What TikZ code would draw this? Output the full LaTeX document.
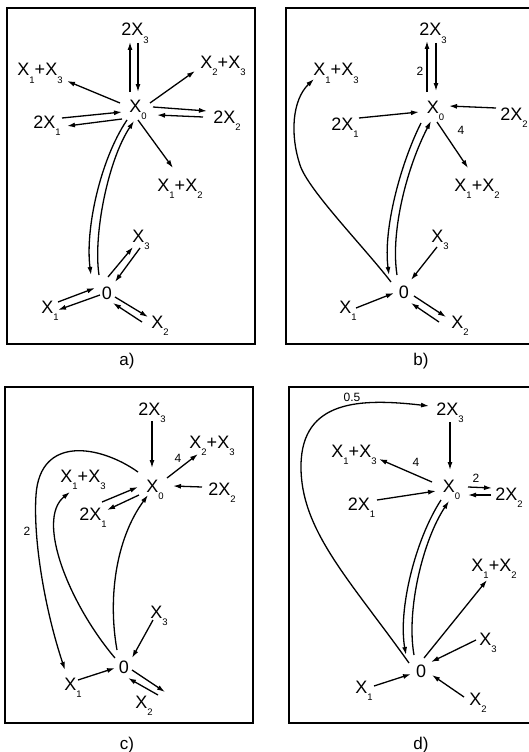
\documentclass[tikz,border=0pt]{standalone}
\usepackage{fontspec}
\setmainfont{Liberation Sans}
\usetikzlibrary{arrows.meta}
\newcommand{\Xs}[1]{X\raisebox{-7.5pt}{\fontsize{9.5}{9.5}\selectfont #1}}
\newcommand{\mainsz}{\fontsize{18}{18}\selectfont}
\begin{document}
\begin{tikzpicture}[x=1pt,y=-1pt,
  lab/.style={inner sep=0pt, anchor=base, font=\mainsz},
  capt/.style={inner sep=0pt, anchor=base, font=\fontsize{17}{17}\selectfont},
  num/.style={inner sep=0pt, font=\fontsize{12}{12}\selectfont},
  arw/.style={line width=1.3pt, -{Latex[length=8pt,width=5pt]}},
  frame/.style={line width=1.3pt}]
\useasboundingbox (0,0) rectangle (529,752);
\fill[white] (0,0) rectangle (529,752);

% frames
\draw[frame] (7,8) rectangle (255,344);
\draw[frame] (286,8) rectangle (532,344);
\draw[frame] (5,387) rectangle (253,723);
\draw[frame] (289,387) rectangle (532,723);

% captions
\node[capt] (capa) at (127,365) {a)};
\node[capt] (capb) at (421,365) {b)};
\node[capt] (capc) at (127,749) {c)};
\node[capt] (capd) at (421,749) {d)};

% ---------------- panel a ----------------
\node[lab] (a23)  at (135,36)  {2\Xs{3}};
\node[lab] (a13)  at (40,76)   {\Xs{1}+\Xs{3}};
\node[lab] (a233) at (223,68)  {\Xs{2}+\Xs{3}};
\node[lab] (ax0)  at (138,112) {\Xs{0}};
\node[lab] (a21)  at (47,128)  {2\Xs{1}};
\node[lab] (a22)  at (227,123) {2\Xs{2}};
\node[lab] (a12)  at (180,191) {\Xs{1}+\Xs{2}};
\node[lab] (a0)   at (107,299) {0};
\node[lab] (ax3)  at (141,242) {\Xs{3}};
\node[lab] (ax1)  at (50,313)  {\Xs{1}};
\node[lab] (ax2)  at (160,328) {\Xs{2}};

\draw[arw] ([shift={(-8,-20)}]ax0.base) -- ([shift={(-5,6)}]a23.base);
\draw[arw] ([shift={(3,7)}]a23.base) -- ([shift={(0,-20)}]ax0.base);
\draw[arw] ([shift={(-18,-9)}]ax0.base) -- ([shift={(27,5)}]a13.base);
\draw[arw] ([shift={(12,-9)}]ax0.base) -- ([shift={(-28,3)}]a233.base);
\draw[arw] ([shift={(15,-10)}]a21.base) -- ([shift={(-16,0)}]ax0.base);
\draw[arw] ([shift={(-16,7)}]ax0.base) -- ([shift={(20,-2)}]a21.base);
\draw[arw] ([shift={(15,-5)}]ax0.base) -- ([shift={(-20,-12)}]a22.base);
\draw[arw] ([shift={(-24,-6)}]a22.base) -- ([shift={(19,3)}]ax0.base);
\draw[arw] ([shift={(0,8)}]ax0.base) -- ([shift={(-7,-23)}]a12.base);
\draw[arw] ([shift={(-11,8)}]ax0.base) .. controls (100,160) and (85,230) .. ([shift={(-16,-24)}]a0.base);
\draw[arw] ([shift={(-8,-24)}]a0.base) .. controls (93,235) and (108,160) .. ([shift={(-4,9)}]ax0.base);
\draw[arw] ([shift={(1,-22)}]a0.base) -- ([shift={(-8,5)}]ax3.base);
\draw[arw] ([shift={(-1,6)}]ax3.base) -- ([shift={(8,-17)}]a0.base);
\draw[arw] ([shift={(8,-11)}]ax1.base) -- ([shift={(-12,-11)}]a0.base);
\draw[arw] ([shift={(-7,-4)}]a0.base) -- ([shift={(8,-3)}]ax1.base);
\draw[arw] ([shift={(8,-2)}]a0.base) -- ([shift={(-12,-11)}]ax2.base);
\draw[arw] ([shift={(-18,-6)}]ax2.base) -- ([shift={(6,4)}]a0.base);

% ---------------- panel b ----------------
\node[lab] (b23) at (433,36)   {2\Xs{3}};
\node[lab] (b13) at (336,76)   {\Xs{1}+\Xs{3}};
\node[lab] (bx0) at (435.5,113) {\Xs{0}};
\node[lab] (b21) at (345,130)  {2\Xs{1}};
\node[lab] (b22) at (514,120)  {2\Xs{2}};
\node[lab] (b12) at (477,191)  {\Xs{1}+\Xs{2}};
\node[lab] (bx3) at (440,242)  {\Xs{3}};
\node[lab] (b0)  at (404,298)  {0};
\node[lab] (bx1) at (348,313)  {\Xs{1}};
\node[lab] (bx2) at (460,328)  {\Xs{2}};
\node[num] (bn2) at (420,71) {2};
\node[num] (bn4) at (461,130) {4};

\draw[arw] ([shift={(-8.5,-21)}]bx0.base) -- ([shift={(-6,5)}]b23.base);
\draw[arw] ([shift={(3,7)}]b23.base) -- ([shift={(0.5,-22)}]bx0.base);
\draw[arw] ([shift={(14,-12)}]b21.base) -- ([shift={(-16.5,-1)}]bx0.base);
\draw[arw] ([shift={(-18,-12)}]b22.base) -- ([shift={(13.5,-7)}]bx0.base);
\draw[arw] ([shift={(1.5,9)}]bx0.base) -- ([shift={(-9,-23)}]b12.base);
\draw[arw] ([shift={(-13,-16)}]b0.base) .. controls (365,248) and (308,190) .. (300,165)
   .. controls (290,135) and (292,100) .. ([shift={(-22,3)}]b13.base);
\draw[arw] ([shift={(-14.5,10)}]bx0.base) .. controls (400,165) and (383,230) .. ([shift={(-15,-23)}]b0.base);
\draw[arw] ([shift={(-7,-23)}]b0.base) .. controls (390,230) and (408,165) .. ([shift={(-4.5,8)}]bx0.base);
\draw[arw] ([shift={(-3,5)}]bx3.base) -- ([shift={(7,-18)}]b0.base);
\draw[arw] ([shift={(8,-5)}]bx1.base) -- ([shift={(-10,-5)}]b0.base);
\draw[arw] ([shift={(10,-2)}]b0.base) -- ([shift={(-14,-11)}]bx2.base);
\draw[arw] ([shift={(-21,-6)}]bx2.base) -- ([shift={(7,5)}]b0.base);

% ---------------- panel c ----------------
\node[lab] (c23)  at (152,415) {2\Xs{3}};
\node[lab] (c233) at (212,448) {\Xs{2}+\Xs{3}};
\node[lab] (c13)  at (83,482)  {\Xs{1}+\Xs{3}};
\node[lab] (cx0)  at (155,492) {\Xs{0}};
\node[lab] (c22)  at (222,495) {2\Xs{2}};
\node[lab] (c21)  at (93,520)  {2\Xs{1}};
\node[lab] (cx3)  at (159,618) {\Xs{3}};
\node[lab] (c0)   at (124,673) {0};
\node[lab] (cx1)  at (73,690)  {\Xs{1}};
\node[lab] (cx2)  at (144,708) {\Xs{2}};
\node[num] (cn4) at (178,458) {4};
\node[num] (cn2) at (27,531) {2};

\draw[arw] ([shift={(0,6)}]c23.base) -- ([shift={(-3,-24)}]cx0.base);
\draw[arw] ([shift={(12,-14)}]cx0.base) -- ([shift={(-14,6)}]c233.base);
\draw[arw] ([shift={(-20,-8)}]c22.base) -- ([shift={(18,-6)}]cx0.base);
\draw[arw] ([shift={(9,-18)}]c21.base) -- ([shift={(-17,-5)}]cx0.base);
\draw[arw] ([shift={(-16,3)}]cx0.base) -- ([shift={(14,-10)}]c21.base);
\draw[arw] ([shift={(-17,-20)}]cx0.base) .. controls (100,445) and (40,435) .. (36,495)
   .. controls (33,540) and (45,610) .. ([shift={(-8,-20)}]cx1.base);
\draw[arw] ([shift={(-9,-15)}]c0.base) .. controls (70,605) and (35,520) .. ([shift={(-13,10)}]c13.base);
\draw[arw] ([shift={(-7,-23)}]c0.base) .. controls (108,600) and (115,540) .. ([shift={(-7,3)}]cx0.base);
\draw[arw] ([shift={(-6,2)}]cx3.base) -- ([shift={(8,-15)}]c0.base);
\draw[arw] ([shift={(5,-10)}]cx1.base) -- ([shift={(-9,-5)}]c0.base);
\draw[arw] ([shift={(8,-3)}]c0.base) -- ([shift={(21,-16)}]cx2.base);
\draw[arw] ([shift={(14,-13)}]cx2.base) -- ([shift={(4,5)}]c0.base);

% ---------------- panel d ----------------
\node[lab] (d23) at (450,415)   {2\Xs{3}};
\node[lab] (d13) at (354,457)   {\Xs{1}+\Xs{3}};
\node[lab] (dx0) at (451.5,492) {\Xs{0}};
\node[lab] (d21) at (361.5,510) {2\Xs{1}};
\node[lab] (d22) at (509,500)   {2\Xs{2}};
\node[lab] (d12) at (494,571)   {\Xs{1}+\Xs{2}};
\node[lab] (dx3) at (488,645)   {\Xs{3}};
\node[lab] (d0)  at (421,677)   {0};
\node[lab] (dx1) at (364,693)   {\Xs{1}};
\node[lab] (dx2) at (478,705)   {\Xs{2}};
\node[num] (dn05) at (352,397) {0.5};
\node[num] (dn4) at (416,462) {4};
\node[num] (dn2) at (476,478) {2};

\draw[arw] ([shift={(0,7)}]d23.base) -- ([shift={(-1.5,-22)}]dx0.base);
\draw[arw] ([shift={(-19.5,-10)}]dx0.base) -- ([shift={(25,2)}]d13.base);
\draw[arw] ([shift={(15.5,-10)}]d21.base) -- ([shift={(-15.5,-1)}]dx0.base);
\draw[arw] ([shift={(16.5,-5)}]dx0.base) -- ([shift={(-17,-12)}]d22.base);
\draw[arw] ([shift={(-18,-5)}]d22.base) -- ([shift={(16.5,3)}]dx0.base);
\draw[arw] ([shift={(-12,-14)}]d0.base) .. controls (350,580) and (300,530) .. (301,465)
   .. controls (302,400) and (360,398) .. ([shift={(-21,-9)}]d23.base);
\draw[arw] ([shift={(-10.5,8)}]dx0.base) .. controls (415,540) and (398,610) .. ([shift={(-15,-22)}]d0.base);
\draw[arw] ([shift={(-7,-22)}]d0.base) .. controls (406,610) and (423,540) .. ([shift={(-2.5,9)}]dx0.base);
\draw[arw] ([shift={(3,-19)}]d0.base) -- ([shift={(-7,9)}]d12.base);
\draw[arw] ([shift={(-12,-5)}]dx3.base) -- ([shift={(10,-15)}]d0.base);
\draw[arw] ([shift={(10,-7)}]dx1.base) -- ([shift={(-10,-3)}]d0.base);
\draw[arw] ([shift={(-14,-8)}]dx2.base) -- ([shift={(11,-2)}]d0.base);
\end{tikzpicture}
\end{document}
